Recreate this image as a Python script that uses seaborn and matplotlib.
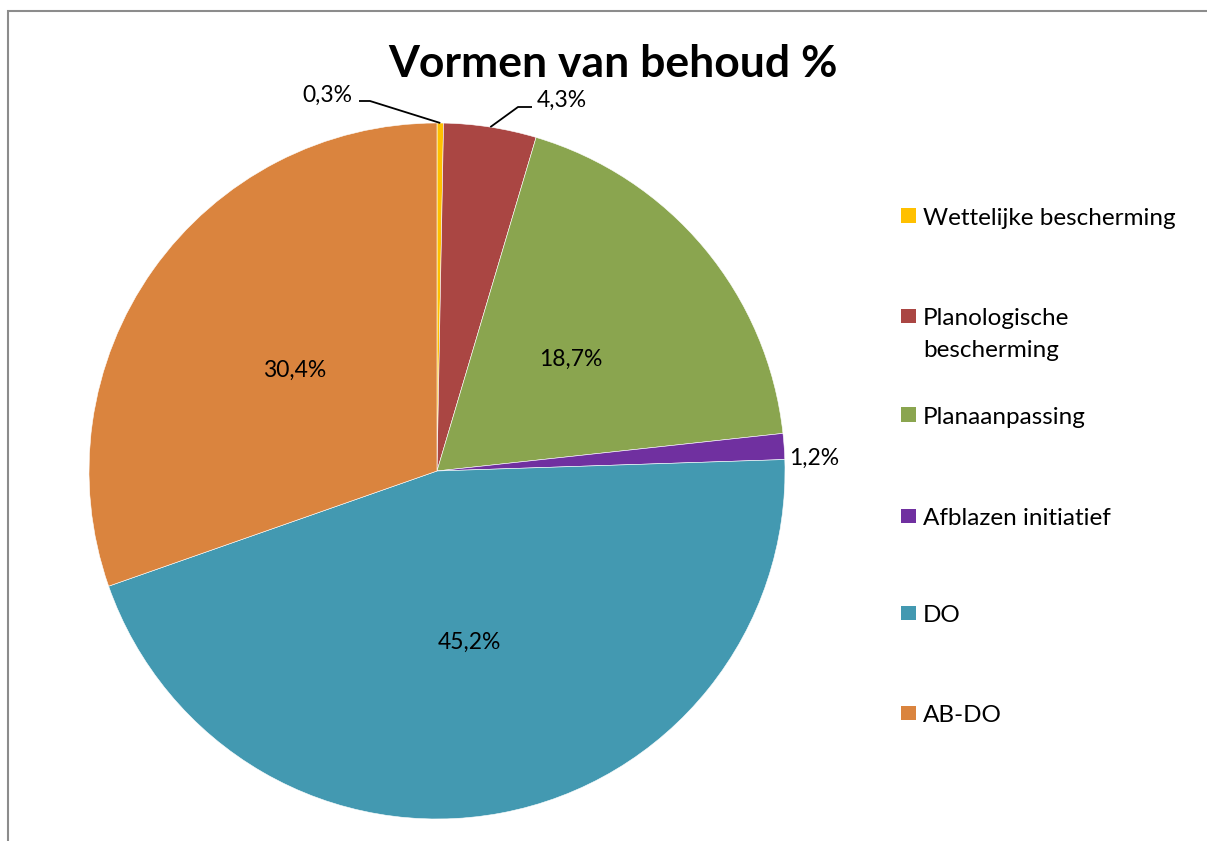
import numpy as np
import matplotlib
matplotlib.use("Agg")
import matplotlib.pyplot as plt
from matplotlib.patches import Rectangle
import seaborn as sns

# Data
categories = ["Wettelijke bescherming", "Planologische\nbescherming", "Planaanpassing",
              "Afblazen initiatief", "DO", "AB-DO"]
shares = [0.3, 4.3, 18.7, 1.2, 45.2, 30.4]
colors = ["#FFC000", "#AA4643", "#8AA54F", "#7030A0", "#4399B1", "#DA843E"]
title = "Vormen van behoud %"

sns.set_theme(style="white")
plt.rcParams["font.family"] = ["Lato", "DejaVu Sans"]
plt.rcParams["text.color"] = "black"

W, H = 1207, 841
fig = plt.figure(figsize=(W / 100, H / 100), dpi=100)

def fx(x):
    return x / W

def fy(y):
    return 1 - y / H

# pie axes: center (437, 471), radius 348 px
cx, cy, r = 437, 471, 348
ax = fig.add_axes([fx(cx - r), fy(cy + r), 2 * r / W, 2 * r / H])
palette = sns.color_palette(colors)
wedges, _ = ax.pie(shares, colors=palette, startangle=90, counterclock=False,
                   radius=1, normalize=True,
                   wedgeprops=dict(edgecolor="white", linewidth=0.4))
ax.set_xlim(-1, 1)
ax.set_ylim(-1, 1)
ax.set_aspect("equal")
ax.axis("off")

def pct(v):
    return f"{v:.1f}".replace(".", ",") + "%"

def px2d(x, y):
    return (x - cx) / r, (cy - y) / r

lab_fs = 16.5
leg_fs = 17.5
for w, v in zip(wedges, shares):
    mid = np.deg2rad((w.theta1 + w.theta2) / 2)
    ex, ey = np.cos(mid), np.sin(mid)
    if v >= 10:
        ax.text(0.5 * ex, 0.5 * ey, pct(v), ha="center", va="center", fontsize=lab_fs)

# small slices: outside labels (with leaders for the top two)
outside = {0: ((327.5, 102), "center", [(359, 101), (370, 101)]),
           1: ((562, 107), "center", [(532, 107), (518, 107)]),
           3: ((789, 465), "left", None)}
for i, ((tx, ty), ha, leader) in outside.items():
    w = wedges[i]
    mid = np.deg2rad((w.theta1 + w.theta2) / 2)
    x, y = px2d(tx, ty)
    ax.text(x, y, pct(shares[i]), ha=ha, va="baseline", fontsize=lab_fs, clip_on=False)
    if leader:
        pts = [px2d(*p) for p in leader] + [(np.cos(mid), np.sin(mid))]
        ax.plot([p[0] for p in pts], [p[1] for p in pts], color="black",
                lw=1.3, clip_on=False, solid_capstyle="butt")

# title
fig.text(fx(613), fy(77), title, ha="center", va="baseline",
         fontsize=32, fontweight="bold")

# legend, drawn by hand to keep Excel's spacing
leg_y = [216, 316, 415, 516, 613, 713]
for lab, col, yc in zip(categories, colors, leg_y):
    fig.add_artist(Rectangle((fx(901.5), fy(yc + 7)), 14.5 / W, 14.5 / H,
                             transform=fig.transFigure, facecolor=col, edgecolor="none"))
    for k, line in enumerate(lab.split("\n")):
        fig.text(fx(923), fy(yc + 9 + 32 * k), line, ha="left", va="baseline",
                 fontsize=leg_fs)

# outer chart frame
fig.add_artist(Rectangle((fx(8), -0.1), 1.2, fy(11) + 0.1, transform=fig.transFigure,
                         facecolor="none", edgecolor="#8C8C8C", lw=1.5))

fig.savefig("out.png", dpi=100)
